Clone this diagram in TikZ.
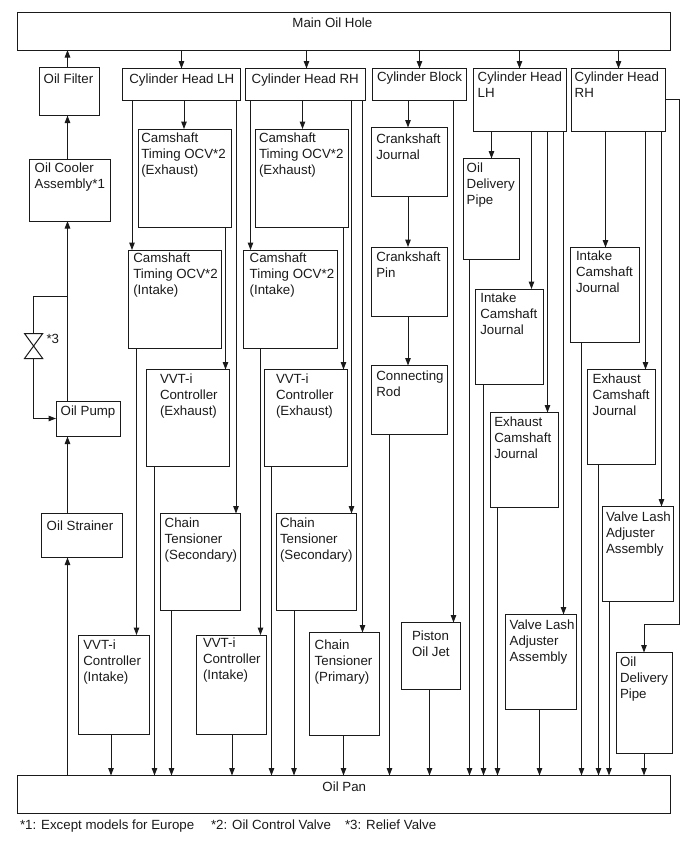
\documentclass[tikz,border=0pt]{standalone}
\usepackage{fontspec}
\setmainfont{Liberation Sans}
\usetikzlibrary{arrows.meta}
\definecolor{ink}{HTML}{1A1A1A}
\tikzset{
  boxn/.style={draw=ink,line width=1pt,inner sep=0pt,outer sep=0pt,anchor=north west,text=ink,font=\fontsize{13.3}{16.1}\selectfont},
  tagn/.style={inner sep=0pt,outer sep=0pt,anchor=base west,text=ink,font=\fontsize{13.3}{16.1}\selectfont},
  flowline/.style={draw=ink,line width=1pt},
  arr/.style={flowline,-{Triangle[length=7.5pt,width=5.5pt]}}
}
% name, left, top, right, bottom, text left, first baseline, text
\newcommand{\bx}[8]{%
  \pgfmathsetlengthmacro{\bxw}{#4-#2}%
  \pgfmathsetlengthmacro{\bxh}{#5-#3}%
  \pgfmathsetlengthmacro{\bxdx}{#6-#2}%
  \pgfmathsetlengthmacro{\bxdy}{#7-#3-11.27}%
  \node[boxn] (#1) at (#2,#3) {\vbox to \bxh{\hsize=\bxw \vskip\bxdy \hbox to \bxw{\hskip\bxdx\begin{tabular}[t]{@{}l@{}}#8\end{tabular}\hss}\vss}};}
% downward flow: from south of #1 to north of #2 at x=#3
\newcommand{\dn}[3]{\draw[arr] (#1.south -| #3,0) -- (#2.north -| #3,0);}
% upward flow: from north of #1 to south of #2 at x=#3
\newcommand{\up}[3]{\draw[arr] (#1.north -| #3,0) -- (#2.south -| #3,0);}
\begin{document}
\begin{tikzpicture}[x=1pt,y=-1pt]
\useasboundingbox (0,0) rectangle (691,855);
\bx{main}{17.5}{12.5}{670.5}{50}{292.5}{27.5}{Main Oil Hole}
\bx{pan}{17.5}{775.5}{670.5}{813.5}{322.5}{791}{Oil Pan}
\bx{filter}{39.5}{67.5}{99.5}{115.5}{43.7}{83.3}{Oil Filter}
\bx{cooler}{29}{159}{110}{221}{34.7}{172.7}{Oil Cooler\\Assembly*1}
\bx{pump}{56}{401}{120}{436.5}{60.7}{415.3}{Oil Pump}
\bx{strainer}{41}{513.5}{122.5}{557.5}{46.7}{530.3}{Oil Strainer}
\bx{headla}{122}{68.5}{240.5}{100.5}{129.3}{83}{Cylinder Head LH}
\bx{headra}{245.5}{68.5}{365}{100.5}{251.7}{83}{Cylinder Head RH}
\bx{block}{372.5}{68.5}{466.5}{100.5}{377}{81.3}{Cylinder Block}
\bx{headlb}{473.5}{68.5}{566.5}{131}{477.7}{81.3}{Cylinder Head\\LH}
\bx{headrb}{571.5}{68.5}{665.5}{131}{574.7}{81.3}{Cylinder Head\\RH}
\bx{ocvexl}{138}{129}{231.5}{227.5}{141.3}{142.7}{Camshaft\\Timing OCV*2\\(Exhaust)}
\bx{ocvexr}{255}{129}{348.5}{227.5}{259}{142.7}{Camshaft\\Timing OCV*2\\(Exhaust)}
\bx{ocvinl}{128.5}{250}{221.5}{348.5}{133.3}{262.7}{Camshaft\\Timing OCV*2\\(Intake)}
\bx{ocvinr}{243.5}{250}{337}{348.5}{249.7}{262.7}{Camshaft\\Timing OCV*2\\(Intake)}
\bx{vvtexl}{146.5}{369.5}{229.5}{466.5}{160}{383.3}{VVT-i\\Controller\\(Exhaust)}
\bx{vvtexr}{264.5}{369.5}{347.5}{466.5}{276}{383.3}{VVT-i\\Controller\\(Exhaust)}
\bx{chsecl}{160.5}{513.5}{240.5}{610.5}{164.7}{527}{Chain\\Tensioner\\(Secondary)}
\bx{chsecr}{276.5}{513.5}{356.5}{610.5}{280}{527}{Chain\\Tensioner\\(Secondary)}
\bx{vvtinl}{78.5}{635}{149}{734.5}{83.3}{649}{VVT-i\\Controller\\(Intake)}
\bx{vvtinr}{196.5}{635}{266.5}{734.5}{203}{647.7}{VVT-i\\Controller\\(Intake)}
\bx{chpri}{309.5}{632.5}{379.5}{735.5}{314.7}{649}{Chain\\Tensioner\\(Primary)}
\bx{crankj}{371}{127.5}{447.5}{196.5}{376.3}{143.3}{Crankshaft\\Journal}
\bx{crankp}{371}{247}{447.5}{316}{376.3}{261}{Crankshaft\\Pin}
\bx{rod}{371}{365.5}{447.5}{434.5}{376.3}{380}{Connecting\\Rod}
\bx{piston}{401.5}{622.5}{460.5}{689.5}{412}{640}{Piston\\Oil Jet}
\bx{delivl}{463.5}{158.5}{519}{259.5}{466.7}{172.7}{Oil\\Delivery\\Pipe}
\bx{intjl}{475.5}{289}{543.5}{384.5}{480.3}{302.7}{Intake\\Camshaft\\Journal}
\bx{exjl}{490.5}{412.5}{558.5}{507.5}{494.3}{426.7}{Exhaust\\Camshaft\\Journal}
\bx{lashl}{505.5}{614.5}{576.5}{709.5}{509.7}{629}{Valve Lash\\Adjuster\\Assembly}
\bx{intjr}{570.5}{247.5}{639.5}{342.5}{576}{260.3}{Intake\\Camshaft\\Journal}
\bx{exjr}{587.5}{369.5}{655.5}{464.5}{592.7}{383.3}{Exhaust\\Camshaft\\Journal}
\bx{lashr}{602.5}{506.5}{673.5}{601.5}{606}{521.3}{Valve Lash\\Adjuster\\Assembly}
\bx{delivr}{616.5}{652.5}{672.5}{753.5}{620}{666.7}{Oil\\Delivery\\Pipe}
\node[tagn] (tagthree) at (46.5,343) {*3};
\node[tagn] (noteone) at (20,829) {*1: Except models for Europe};
\node[tagn] (notetwo) at (211,829) {*2: Oil Control Valve};
\node[tagn] (notethree) at (345,829) {*3: Relief Valve};
% oil supply train
\up{pan}{strainer}{67.5}
\up{strainer}{pump}{67.5}
\up{pump}{cooler}{67.5}
\up{cooler}{filter}{67.5}
\up{filter}{main}{67.5}
% relief valve
\coordinate (tee) at (67.5,296.5);
\coordinate (valvetop) at (33.5,333.5);
\coordinate (valvebot) at (33.5,358.5);
\coordinate (pumpin) at (56,418.5);
\draw[flowline] (tee) -- (tee -| valvetop) -- (valvetop);
\draw[flowline,line join=miter] (24.5,333.5) -- (42.7,333.5) -- (24.5,358.5) -- (42.7,358.5) -- cycle;
\draw[arr] (valvebot) |- (pumpin);
% main hole to heads and block
\dn{main}{headla}{181.5}
\dn{main}{headra}{306.5}
\dn{main}{block}{419.5}
\dn{main}{headlb}{519.5}
\dn{main}{headrb}{618.5}
% head LH (first)
\dn{headla}{ocvexl}{184}
\dn{headla}{ocvinl}{132}
\dn{headla}{chsecl}{236}
\dn{ocvexl}{vvtexl}{225.5}
\dn{ocvinl}{vvtinl}{136.5}
\dn{vvtexl}{pan}{154.5}
\dn{chsecl}{pan}{171.5}
\dn{vvtinl}{pan}{111}
% head RH (first)
\dn{headra}{ocvexr}{302.5}
\dn{headra}{ocvinr}{250.5}
\dn{headra}{chsecr}{351.5}
\dn{headra}{chpri}{362.5}
\dn{ocvexr}{vvtexr}{343.5}
\dn{ocvinr}{vvtinr}{260.5}
\dn{vvtexr}{pan}{271.5}
\dn{chsecr}{pan}{294}
\dn{vvtinr}{pan}{232}
\dn{chpri}{pan}{343.5}
% block
\dn{block}{crankj}{408}
\dn{crankj}{crankp}{408}
\dn{crankp}{rod}{408}
\dn{rod}{pan}{389.5}
\dn{block}{piston}{453.5}
\dn{piston}{pan}{429.5}
% head LH (second)
\dn{headlb}{delivl}{491.5}
\dn{headlb}{intjl}{531.5}
\dn{headlb}{exjl}{547.5}
\dn{headlb}{lashl}{563.5}
\dn{delivl}{pan}{469.5}
\dn{intjl}{pan}{483.5}
\dn{exjl}{pan}{497.5}
\dn{lashl}{pan}{539.5}
% head RH (second)
\dn{headrb}{intjr}{605.5}
\dn{headrb}{exjr}{645.5}
\dn{headrb}{lashr}{661.5}
\dn{intjr}{pan}{581.5}
\dn{exjr}{pan}{598.5}
\dn{lashr}{pan}{609}
\dn{delivr}{pan}{644}
\coordinate (loopa) at (679.5,99.5);
\coordinate (loopb) at (679.5,624.5);
\coordinate (loopc) at (644,624.5);
\draw[arr] (headrb.east |- loopa) -- (loopa) -- (loopb) -- (loopc) -- (delivr.north -| loopc);
\end{tikzpicture}
\end{document}
